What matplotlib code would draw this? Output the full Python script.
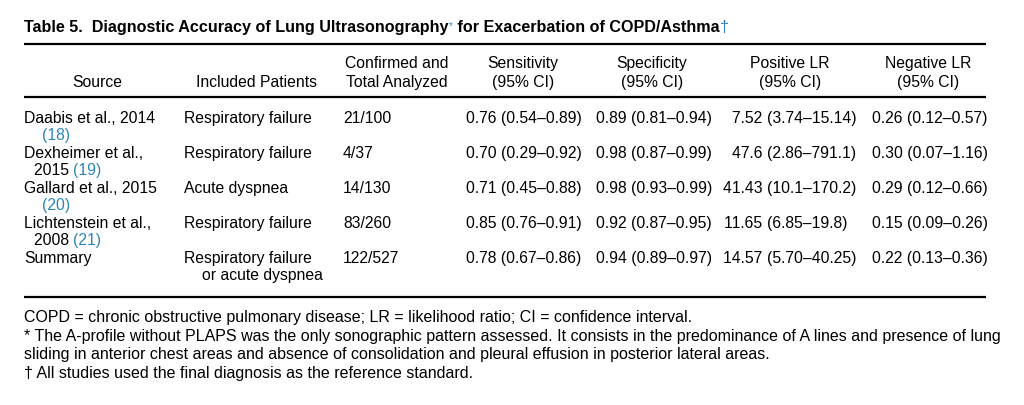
import matplotlib.pyplot as plt

plt.rcParams['font.family'] = ['Liberation Sans', 'DejaVu Sans']

blue = '#2f86b8'

# table contents
source_main = ["Daabis et al., 2014", "Dexheimer et al.,", "Gallard et al., 2015",
               "Lichtenstein et al.,", "Summary"]
source_year = ["", "2015 ", "", "2008 ", ""]
source_ref = ["(18)", "(19)", "(20)", "(21)", ""]
patients = ["Respiratory failure", "Respiratory failure", "Acute dyspnea",
            "Respiratory failure", "Respiratory failure"]
patients_2 = ["", "", "", "", "or acute dyspnea"]
confirmed = ["21/100", "4/37", "14/130", "83/260", "122/527"]
sens = ["0.76 (0.54\u20130.89)", "0.70 (0.29\u20130.92)", "0.71 (0.45\u20130.88)",
        "0.85 (0.76\u20130.91)", "0.78 (0.67\u20130.86)"]
spec = ["0.89 (0.81\u20130.94)", "0.98 (0.87\u20130.99)", "0.98 (0.93\u20130.99)",
        "0.92 (0.87\u20130.95)", "0.94 (0.89\u20130.97)"]
pos_lr = ["7.52 (3.74\u201315.14)", "47.6 (2.86\u2013791.1)", "41.43 (10.1\u2013170.2)",
          "11.65 (6.85\u201319.8)", "14.57 (5.70\u201340.25)"]
neg_lr = ["0.26 (0.12\u20130.57)", "0.30 (0.07\u20131.16)", "0.29 (0.12\u20130.66)",
          "0.15 (0.09\u20130.26)", "0.22 (0.13\u20130.36)"]

headers = [("", "Source"), ("", "Included Patients"), ("Confirmed and", "Total Analyzed"),
           ("Sensitivity", "(95% CI)"), ("Specificity", "(95% CI)"),
           ("Positive LR", "(95% CI)"), ("Negative LR", "(95% CI)")]
header_x = [97, 256, 397, 523, 652, 790, 928]

footnotes = [
    "COPD = chronic obstructive pulmonary disease; LR = likelihood ratio; CI = confidence interval.",
    "* The A-profile without PLAPS was the only sonographic pattern assessed. It consists in the predominance of A lines and presence of lung",
    "sliding in anterior chest areas and absence of consolidation and pleural effusion in posterior lateral areas.",
    "\u2020 All studies used the final diagnosis as the reference standard.",
]

fig = plt.figure(figsize=(10.24, 4.06), dpi=100)
ax = fig.add_axes([0, 0, 1, 1])
ax.set_xlim(0, 1024)
ax.set_ylim(406, 0)
ax.axis('off')

fs = 11.3
tfs = 11.6

# title
t0 = ax.text(24, 32, "Table 5.  Diagnostic Accuracy of Lung Ultrasonography",
             fontsize=tfs, fontweight='bold', va='baseline')
ax.annotate("*", xy=(1, 1), xycoords=t0, xytext=(0.3, -1), textcoords='offset points',
            fontsize=7, color=blue, va='top')
t2 = ax.annotate(" for Exacerbation of COPD/Asthma", xy=(1, 0), xycoords=t0,
                 xytext=(3.5, 0), textcoords='offset points',
                 fontsize=tfs, fontweight='bold', va='bottom')
ax.annotate("\u2020", xy=(1, 0), xycoords=t2, fontsize=tfs, color=blue, va='bottom')

# rules
for y in [45, 98, 298]:
    ax.plot([24, 986], [y, y], color='black', lw=1.6, solid_capstyle='butt')

# headers
for (l1, l2), x in zip(headers, header_x):
    if l1:
        ax.text(x, 68, l1, fontsize=fs, ha='center', va='baseline')
    ax.text(x, 87, l2, fontsize=fs, ha='center', va='baseline')

# rows
for i in range(len(source_main)):
    y = 123 + 35 * i
    y2 = y + 17.5
    ax.text(24, y, source_main[i], fontsize=fs, va='baseline')
    if source_year[i]:
        yt = ax.text(34, y2, source_year[i], fontsize=fs, va='baseline')
        ax.annotate(source_ref[i], xy=(1, 0), xycoords=yt, fontsize=fs,
                    color=blue, va='bottom')
    elif source_ref[i]:
        ax.text(42, y2, source_ref[i], fontsize=fs, color=blue, va='baseline')
    ax.text(184, y, patients[i], fontsize=fs, va='baseline')
    if patients_2[i]:
        ax.text(202, y2, patients_2[i], fontsize=fs, va='baseline')
    ax.text(343, y, confirmed[i], fontsize=fs, va='baseline')
    for col, x in [(sens, 466), (spec, 596), (pos_lr, 767), (neg_lr, 872)]:
        if col is pos_lr:
            val, ci = col[i].split(" ", 1)
            ax.text(x, y, val + " ", fontsize=fs, va='baseline', ha='right')
            ax.text(x, y, ci, fontsize=fs, va='baseline')
        else:
            ax.text(x, y, col[i], fontsize=fs, va='baseline')

# footnotes
for k, line in enumerate(footnotes):
    ax.text(24, 322.5 + 18.5 * k, line, fontsize=11.5, va='baseline')

fig.savefig('out.png', dpi=100)
